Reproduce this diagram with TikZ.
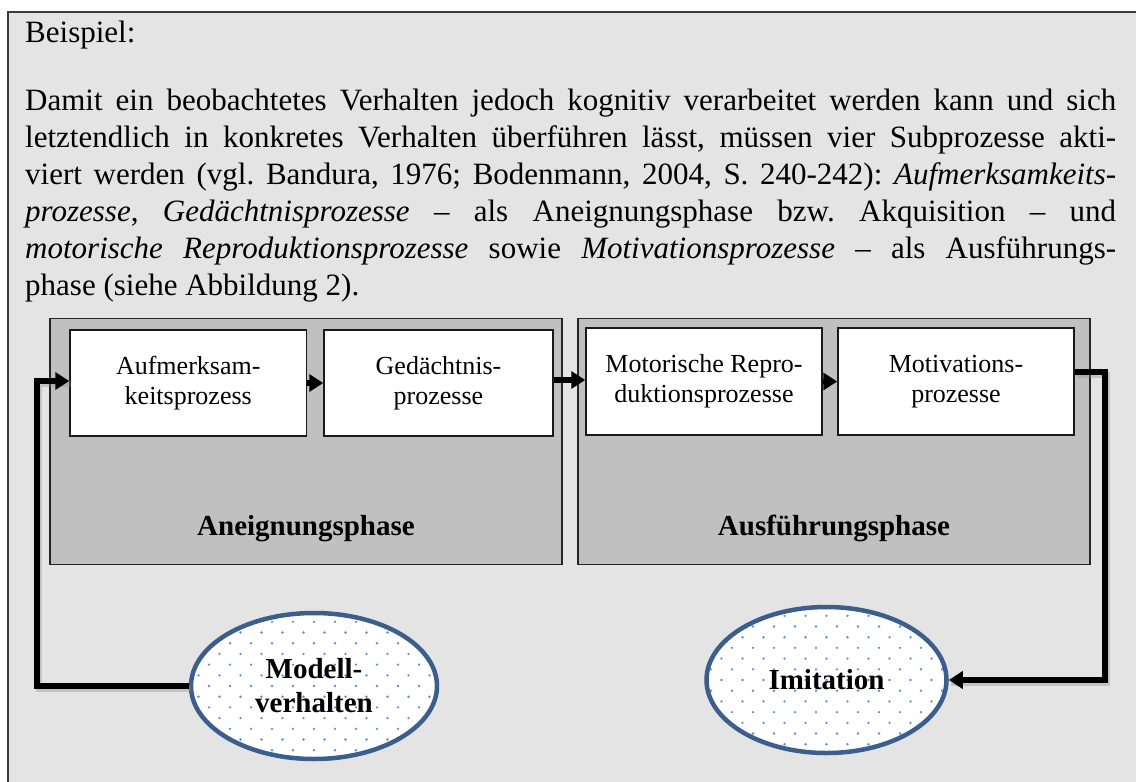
\documentclass[tikz,border=0pt]{standalone}
\usepackage{fontspec}
\setmainfont{Liberation Serif}
\usetikzlibrary{arrows.meta,shapes.geometric}
\definecolor{bgc}{HTML}{E4E4E4}
\definecolor{phasec}{HTML}{C0C0C0}
\definecolor{ellc}{HTML}{3B5E8C}
\definecolor{dotc}{HTML}{5B8FD6}
\definecolor{framec}{HTML}{3A3A3A}
\definecolor{shadc}{HTML}{8A8A8A}
\frenchspacing
\begin{document}
\begin{tikzpicture}[x=1pt,y=-1pt,
  txtline/.style={anchor=base west, inner sep=0pt, font=\fontsize{31}{37}\selectfont},
  phasebox/.style={draw=black!85, line width=1.2pt, fill=phasec, inner sep=0pt},
  procbox/.style={draw=black!90, line width=1.5pt, fill=white, inner sep=0pt, align=center, font=\fontsize{26}{30}\selectfont},
  phaselabel/.style={anchor=base, inner sep=0pt, font=\fontsize{29}{34}\selectfont\bfseries},
  ellnode/.style={shape=ellipse, draw=ellc, line width=4.5pt, inner sep=0pt, align=center, font=\fontsize{29}{34}\selectfont\bfseries},
  conn/.style={line width=5.5pt, black, -{Triangle[length=14pt,width=17pt]}},
  shad/.style={line width=6pt, shadc, opacity=0.35}
]
\useasboundingbox (0,0) rectangle (1136,782);
\fill[bgc] (8,12) rectangle (1136,782);
\draw[framec, line width=1.3pt] (8,782) -- (8,12) -- (1136,12);

% text
\node[txtline] (t0) at (25,42) {Beispiel:};
\node[txtline] (t1) at (25,110) {\makebox[1091pt][s]{Damit ein beobachtetes Verhalten jedoch kognitiv verarbeitet werden kann und sich}};
\node[txtline] (t2) at (25,147) {\makebox[1091pt][s]{letztendlich in konkretes Verhalten überführen lässt, müssen vier Subprozesse akti-}};
\node[txtline] (t3) at (25,184) {\makebox[1091pt][s]{viert werden (vgl. Bandura, 1976; Bodenmann, 2004, S. 240-242): \textit{Aufmerksamkeits-}}};
\node[txtline] (t4) at (25,221) {\makebox[1091pt][s]{\textit{prozesse}, \textit{Gedächtnisprozesse} – als Aneignungsphase bzw. Akquisition – und}};
\node[txtline] (t5) at (25,258) {\makebox[1091pt][s]{\textit{motorische Reproduktionsprozesse} sowie \textit{Motivationsprozesse} – als Ausführungs-}};
\node[txtline] (t6) at (25,295) {phase (siehe Abbildung 2).};

% phase boxes
\node[phasebox, minimum width=512pt, minimum height=246pt] (ph1) at (306,441.5) {};
\node[phasebox, minimum width=512pt, minimum height=246pt] (ph2) at (834,441.5) {};
\node[phaselabel] (l1) at (306,535) {Aneignungsphase};
\node[phaselabel] (l2) at (834,535) {Ausführungsphase};

% process boxes
\node[procbox, minimum width=236.5pt, minimum height=106pt] (auf) at (188.25,383) {Aufmerksam-\\keitsprozess};
\node[procbox, minimum width=229pt, minimum height=106pt] (ged) at (438.5,383) {Gedächtnis-\\prozesse};
\node[procbox, minimum width=236pt, minimum height=107pt] (mot) at (704,381.5) {Motorische Repro-\\duktionsprozesse};
\node[procbox, minimum width=236pt, minimum height=107pt] (motv) at (956,381.5) {Motivations-\\prozesse};

% ellipses: white fill and dot pattern
\fill[white] (314,686) ellipse [x radius=123pt, y radius=73pt];
\fill[white] (826.5,680) ellipse [x radius=120pt, y radius=73pt];
\begin{scope}
  \clip (314,686) ellipse [x radius=121pt, y radius=71pt];
  \foreach \j in {-7,...,7} {
    \pgfmathsetmacro\off{mod(abs(\j),2)*10.5}
    \foreach \i in {-6,...,6} {
      \fill[dotc] ({314+\i*21+\off},{686+\j*10.7}) circle (1.3pt);
    }
  }
\end{scope}
\begin{scope}
  \clip (826.5,680) ellipse [x radius=118pt, y radius=71pt];
  \foreach \j in {-7,...,7} {
    \pgfmathsetmacro\off{mod(abs(\j),2)*10.5}
    \foreach \i in {-6,...,6} {
      \fill[dotc] ({826.5+\i*21+\off},{680+\j*10.7}) circle (1.3pt);
    }
  }
\end{scope}
\node[ellnode, minimum width=246pt, minimum height=146pt] (modell) at (314,686) {Modell-\\verhalten};
\node[ellnode, minimum width=240pt, minimum height=146pt] (imit) at (826.5,680) {Imitation};

% connectors
\coordinate (c1) at (37,381);
\coordinate (c2) at (1105,680);
\coordinate (m1) at ([yshift=9.5pt]motv.east);

\begin{scope}[transform canvas={xshift=2pt,yshift=-3pt}]
  \draw[shad] (modell.west) -| (c1) -- (auf.west |- c1);
  \draw[shad] (m1) -| (c2) -- (imit.east);
\end{scope}

\draw[conn] (modell.west) -| (c1) -- (auf.west |- c1);
\draw[conn] (auf.east) -- (ged.west);
\draw[conn] ([yshift=3pt]ged.east) -- ([yshift=3pt]ged.east -| mot.west);
\draw[conn] (mot.east) -- (motv.west);
\draw[conn] (m1) -| (c2) -- (imit.east);
\end{tikzpicture}
\end{document}
